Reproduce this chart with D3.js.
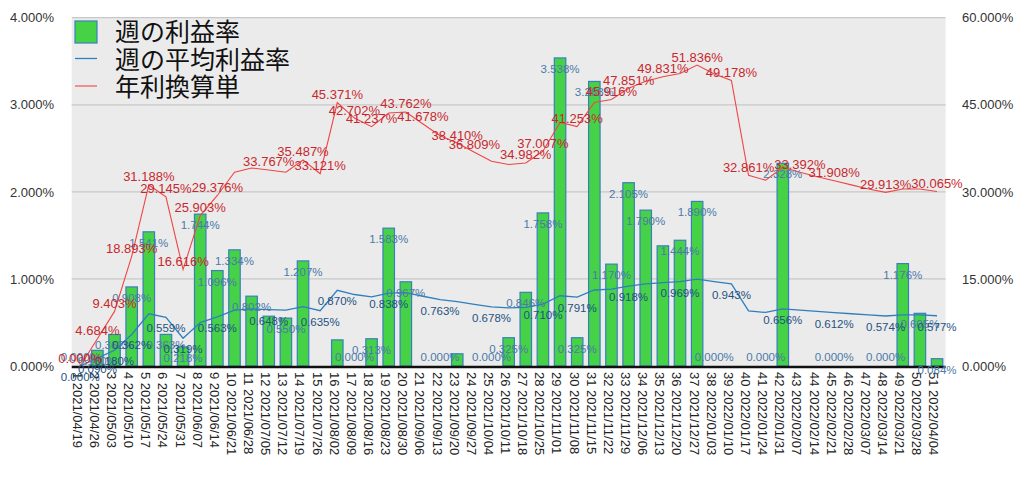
<!DOCTYPE html>
<html>
<head>
<meta charset="utf-8">
<script src="https://cdn.jsdelivr.net/npm/d3@7"></script>
<style>
  body { margin: 0; background: #fff; }
  svg text { font-family: "Liberation Sans", Arial, sans-serif; }
</style>
</head>
<body>
<svg id="chart"></svg>
<script>
const width = 1024;
const height = 479;

const dates = [
  "2021/04/19", "2021/04/26", "2021/05/03", "2021/05/10", "2021/05/17", "2021/05/24", "2021/05/31",
  "2021/06/07", "2021/06/14", "2021/06/21", "2021/06/28", "2021/07/05", "2021/07/12", "2021/07/19",
  "2021/07/26", "2021/08/02", "2021/08/09", "2021/08/16", "2021/08/23", "2021/08/30", "2021/09/06",
  "2021/09/13", "2021/09/20", "2021/09/27", "2021/10/04", "2021/10/11", "2021/10/18", "2021/10/25",
  "2021/11/01", "2021/11/08", "2021/11/15", "2021/11/22", "2021/11/29", "2021/12/06", "2021/12/13",
  "2021/12/20", "2021/12/27", "2022/01/03", "2022/01/10", "2022/01/17", "2022/01/24", "2022/01/31",
  "2022/02/07", "2022/02/14", "2022/02/21", "2022/02/28", "2022/03/07", "2022/03/14", "2022/03/21",
  "2022/03/28", "2022/04/04"
];

// 週の利益率 (%)
const weeklyRate = [
  0.000, 0.180, 0.362, 0.908, 1.541, 0.363, 0.218, 1.744, 1.096, 1.334,
  0.802, 0.572, 0.550, 1.207, 0.000, 0.300, 0.000, 0.313, 1.583, 0.967,
  0.000, 0.000, 0.140, 0.000, 0.000, 0.325, 0.846, 1.758, 3.538, 0.325,
  3.268, 1.170, 2.105, 1.790, 1.380, 1.444, 1.890, 0.000, 0.000, 0.000,
  0.000, 2.328, 0.000, 0.000, 0.000, 0.000, 0.000, 0.000, 1.176, 0.605, 0.084
];

// 週の平均利益率 (%)
const avgRate = [
  0.000, 0.090, 0.180, 0.362, 0.600, 0.559, 0.319, 0.498, 0.563, 0.642,
  0.656, 0.648, 0.642, 0.682, 0.635, 0.870, 0.821, 0.793, 0.838, 0.842,
  0.801, 0.763, 0.739, 0.708, 0.678, 0.667, 0.673, 0.710, 0.807, 0.791,
  0.873, 0.883, 0.918, 0.943, 0.958, 0.969, 0.997, 0.968, 0.943, 0.632,
  0.615, 0.656, 0.642, 0.627, 0.612, 0.600, 0.587, 0.574, 0.586, 0.587, 0.577
];

// 年利換算単 (%)
const annualRate = [
  0.000, 4.684, 9.403, 18.893, 31.188, 29.145, 16.616, 25.903, 29.376, 33.380,
  34.100, 33.767, 33.370, 35.487, 33.121, 45.371, 42.702, 41.237, 43.580, 43.762,
  41.678, 39.680, 38.410, 36.809, 35.260, 34.700, 34.982, 37.007, 41.950, 41.253,
  45.400, 45.916, 47.851, 49.050, 49.831, 50.390, 51.836, 50.300, 49.178, 32.861,
  32.000, 34.200, 33.392, 32.600, 31.908, 31.200, 30.500, 29.913, 30.500, 30.500, 30.065
];

// weeks whose data labels are visible in the original
const barLabelWeeks = [1, 2, 3, 4, 5, 6, 7, 8, 9, 10, 11, 13, 14, 17, 18, 19, 20, 22, 25, 26, 27, 28, 29, 30,
  31, 32, 33, 34, 36, 37, 38, 41, 42, 45, 48, 49, 50, 51];
const avgLabelWeeks = [1, 2, 3, 4, 6, 7, 9, 12, 15, 16, 19, 22, 25, 28, 30, 33, 36, 39, 42, 45, 48, 51];
const annualLabelWeeks = [1, 2, 3, 4, 5, 6, 7, 8, 9, 12, 14, 15, 16, 17, 18, 20, 21, 23, 24, 27, 28, 30,
  32, 33, 35, 37, 39, 40, 43, 45, 48, 51];

const leftTicks = [0, 1, 2, 3, 4];
const rightTicks = [0, 15, 30, 45, 60];

const legendNames = ["週の利益率", "週の平均利益率", "年利換算単"];

const categories = dates.map((d, i) => `${i + 1} ${d}`);
const rows = categories.map((c, i) => ({
  cat: c, week: i + 1, bar: weeklyRate[i], avg: avgRate[i], annual: annualRate[i]
}));

const plot = { left: 71.7, right: 945.6, top: 17.7, bottom: 366 };

const svg = d3.select("#chart")
  .attr("width", width)
  .attr("height", height);

const x = d3.scaleBand()
  .domain(categories)
  .range([plot.left, plot.right])
  .paddingInner(0.33)
  .paddingOuter(0.165);

const y = d3.scaleLinear().domain([0, 4]).range([plot.bottom, plot.top]);
const y2 = d3.scaleLinear().domain([0, 60]).range([plot.bottom, plot.top]);

const cx = d => x(d.cat) + x.bandwidth() / 2;
const pct = d3.format(".3f");

// background + grid
svg.append("rect")
  .attr("x", plot.left).attr("y", plot.top)
  .attr("width", plot.right - plot.left).attr("height", plot.bottom - plot.top)
  .attr("fill", "#ebebeb");

svg.append("g")
  .selectAll("line")
  .data(leftTicks.filter(t => t > 0))
  .enter().append("line")
  .attr("x1", plot.left).attr("x2", plot.right)
  .attr("y1", d => y(d)).attr("y2", d => y(d))
  .attr("stroke", "#c8c8c8")
  .attr("stroke-width", 1.2);

// axes
const leftAxis = d3.axisLeft(y)
  .tickValues(leftTicks)
  .tickFormat(d => pct(d) + "%")
  .tickSize(0)
  .tickPadding(0);

svg.append("g")
  .attr("transform", "translate(54,0)")
  .call(leftAxis)
  .call(g => g.select(".domain").remove())
  .selectAll("text")
  .attr("font-size", 13)
  .attr("fill", "#333");

const rightAxis = d3.axisRight(y2)
  .tickValues(rightTicks)
  .tickFormat(d => pct(d) + "%")
  .tickSize(0)
  .tickPadding(0);

svg.append("g")
  .attr("transform", "translate(962,0)")
  .call(rightAxis)
  .call(g => g.select(".domain").remove())
  .selectAll("text")
  .attr("font-size", 13)
  .attr("fill", "#333");

// bars
svg.append("g")
  .selectAll("rect")
  .data(rows.filter(d => d.bar > 0))
  .enter().append("rect")
  .attr("x", d => x(d.cat))
  .attr("y", d => y(d.bar))
  .attr("width", x.bandwidth())
  .attr("height", d => y(0) - y(d.bar))
  .attr("fill", "#46d246")
  .attr("stroke", "#3a7fbd")
  .attr("stroke-width", 1.2);

// baseline
svg.append("line")
  .attr("x1", plot.left).attr("x2", plot.right)
  .attr("y1", y(0) + 1).attr("y2", y(0) + 1)
  .attr("stroke", "#111")
  .attr("stroke-width", 2.6);

// x labels
svg.append("g")
  .selectAll("text")
  .data(rows)
  .enter().append("text")
  .attr("transform", d => `translate(${cx(d) - 3},${plot.bottom + 6}) rotate(90)`)
  .attr("dy", "0.35em")
  .attr("font-size", 13)
  .attr("fill", "#222")
  .text(d => d.cat);

// lines
const avgLine = d3.line().x(cx).y(d => y(d.avg));
const annualLine = d3.line().x(cx).y(d => y2(d.annual));

svg.append("path")
  .datum(rows)
  .attr("d", avgLine)
  .attr("fill", "none")
  .attr("stroke", "#2f7fbf")
  .attr("stroke-width", 1.3);

svg.append("path")
  .datum(rows)
  .attr("d", annualLine)
  .attr("fill", "none")
  .attr("stroke", "#f04545")
  .attr("stroke-width", 1.1);

// data labels
svg.append("g")
  .selectAll("text")
  .data(rows.filter(d => barLabelWeeks.includes(d.week)))
  .enter().append("text")
  .attr("x", cx)
  .attr("y", d => d.bar === 0 ? y(0) - 5 : y(d.bar) + 15)
  .attr("text-anchor", "middle")
  .attr("font-size", 11.5)
  .attr("fill", "#4a7aa8")
  .text(d => pct(d.bar) + "%");

svg.append("g")
  .selectAll("text")
  .data(rows.filter(d => avgLabelWeeks.includes(d.week)))
  .enter().append("text")
  .attr("x", cx)
  .attr("y", d => y(d.avg) + 15)
  .attr("text-anchor", "middle")
  .attr("font-size", 11.5)
  .attr("fill", "#1f5282")
  .text(d => pct(d.avg) + "%");

svg.append("g")
  .selectAll("text")
  .data(rows.filter(d => annualLabelWeeks.includes(d.week)))
  .enter().append("text")
  .attr("x", cx)
  .attr("y", d => y2(d.annual) - 3.5)
  .attr("text-anchor", "middle")
  .attr("font-size", 13)
  .attr("fill", "#c8282d")
  .text(d => pct(d.annual) + "%");

// legend
const legend = svg.append("g").attr("transform", "translate(75,0)");
legend.append("rect")
  .attr("x", 0).attr("y", 21)
  .attr("width", 22).attr("height", 22)
  .attr("fill", "#46d246")
  .attr("stroke", "#3a7fbd")
  .attr("stroke-width", 1.2);
legend.append("line")
  .attr("x1", 0).attr("x2", 22).attr("y1", 58.5).attr("y2", 58.5)
  .attr("stroke", "#2f7fbf").attr("stroke-width", 1.3);
legend.append("line")
  .attr("x1", 0).attr("x2", 22).attr("y1", 86).attr("y2", 86)
  .attr("stroke", "#f04545").attr("stroke-width", 1.1);
legend.selectAll("text")
  .data(legendNames)
  .enter().append("text")
  .attr("x", 40)
  .attr("y", (d, i) => [32.5, 60, 87][i])
  .attr("dy", "0.35em")
  .attr("font-size", 25)
  .attr("fill", "#111")
  .style("font-family", "'Noto Sans CJK JP', sans-serif")
  .text(d => d);
</script>
</body>
</html>
